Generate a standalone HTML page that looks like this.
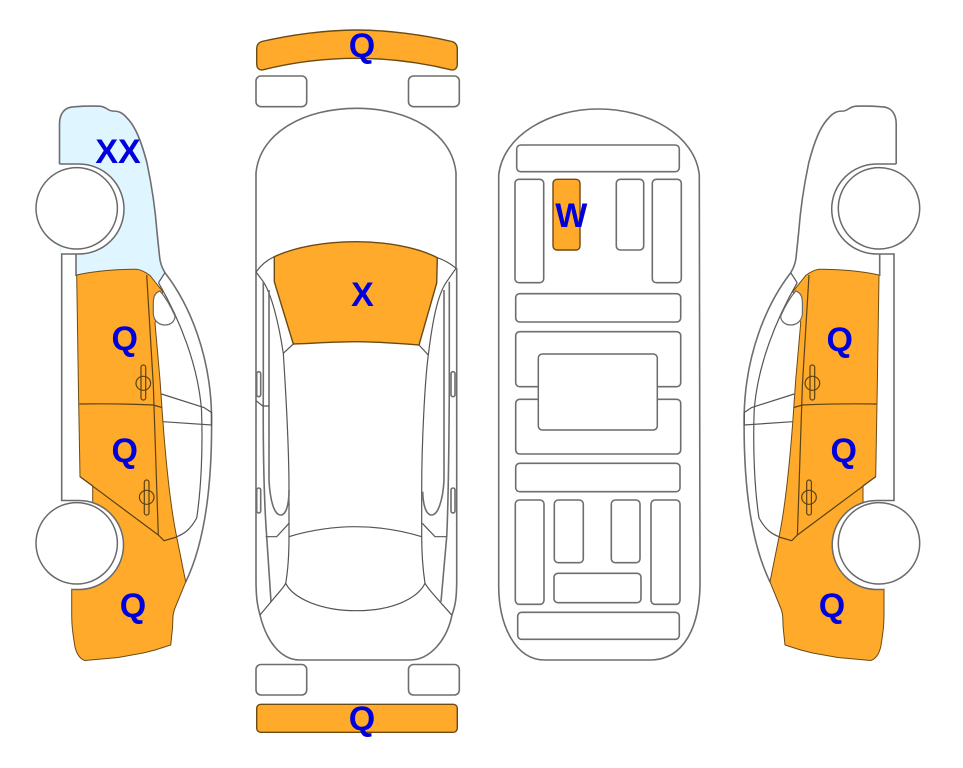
<!DOCTYPE html>
<html><head><meta charset="utf-8"><style>
html,body{margin:0;padding:0;background:#fff;width:963px;height:768px;overflow:hidden}
svg{display:block}
.l{fill:none;stroke:#6e6e6e;stroke-width:1.6}
.t{fill:none;stroke:#555;stroke-width:1.2}
.b{fill:#fff;stroke:#6a6a6a;stroke-width:1.5}
.o{fill:#FFAA2B;stroke:#6b4a14;stroke-width:1.4}
.n{fill:none;stroke:#5a4315;stroke-width:1.2}
text{font-family:"Liberation Sans",sans-serif;font-weight:bold;font-size:34px;fill:#0000DC;text-anchor:middle}
</style></head><body>
<svg width="963" height="768" viewBox="0 0 963 768" xmlns="http://www.w3.org/2000/svg">
<defs>
<g id="side">
  <!-- body outline -->
  <path class="l" d="M59.5 164V124C59.5 113 65 107 74 106.8C84 106 92 106 100 106.2C106 106.8 108 110.5 112 111C118 111 122 112 127 118C135 126 141 140 147 163C151 182 155 205 157 232L159.5 256C160 263 162 268 165 272.7"/>
  <!-- windows & body side -->
  <path class="l" d="M165 272.7C190 305 210 355 211.5 413C212.5 480 206 540 185.7 582"/>
  <path class="t" d="M158.5 282.7L165 272.7"/>
  <path class="t" d="M158.5 282.7C180 320 198 365 201.5 410C203 450 201 490 196.7 518C190 530 184 534 176 537"/>
  <path class="t" d="M161.5 394L204 407.500L211.500 412.500L211.500 425L163 421.700"/>
  <!-- rails -->
  <path class="l" d="M61.700 254V501"/>
  <!-- orange panels -->
  <path class="o" d="M76.700 275C95 271 118 269 136.700 269.300C142 270 146 272.500 150 275.500L162.700 291.500L155 323L160 380L163 423C166 462 170 505 176.700 537L185.700 582L175 608C172.500 614 173 618 172.500 628L170.700 645L155 650L143 653L118 657.500L85 660.500C80 659 77 655 75 647C72.500 632 71.700 625 71.700 613V589L92.700 502V485.700L80 476.700L78.300 380Z" style="stroke-width:1"/>
  <path class="n" d="M146.700 275L153.300 385L158.300 535"/>
  <path class="n" d="M79.300 404C105 403.500 130 404 153.300 405L162 407.500"/>
  <path class="n" d="M80 476.700L158.300 535L164 540.700L176.700 537"/>
  <rect x="141" y="365" width="4.700" height="35" rx="2.300" class="n"/>
  <ellipse cx="143.300" cy="383.300" rx="7.300" ry="7" class="n"/>
  <rect x="144.300" y="480" width="4.700" height="35" rx="2.300" class="n"/>
  <ellipse cx="146.700" cy="497.300" rx="7.300" ry="7" class="n"/>
  <!-- mirror -->
  <path class="b" d="M160 291C154 293 153.300 298 153.300 304V314C154 321 159 325 165 325C171 325 175 321 175 316C171 307 166 298 160 291Z" style="stroke-width:1.200"/>
  <!-- arches -->
  <path class="b" d="M59.500 164H79A45 45 0 0 1 79 254H61"/>
  <path class="b" d="M61 500.500H79A44.500 44.500 0 0 1 79 589.500H71.700"/>
  <circle class="b" cx="76.700" cy="208.300" r="40.700"/>
  <circle class="b" cx="76.700" cy="543.300" r="40.700"/>
</g>
</defs>

<!-- left view -->
<path d="M60 164V124C60 113 65 107 74 107C84 106 92 106 100 106.500C106 107 108 111 112 111C118 111 122 112 127 118C135 126 141 140 147 163C151 182 155 205 157 232L159.500 256C160 263 162 268 165 272.700L158.500 283L150 276L76.700 276V254H60Z" fill="#DFF5FF"/>
<path class="l" d="M76 254V276"/>
<use href="#side"/>
<!-- right view -->
<use href="#side" transform="translate(955.700 0) scale(-1 1)"/>
<path class="l" d="M879.700 254V276"/>

<!-- top view -->
<path class="o" d="M261.700 41.500C290 35 325 30 356.700 30C388 30 424 35 452 41.500C455.500 42.500 457.300 45 457.300 49V64C457.300 68.500 454.500 70.500 451 69.800C423 63 390 58.300 356.700 58.300C323 58.300 290 63 263 69.800C259.500 70.500 256.700 68.500 256.700 64V49C256.700 45 258.500 42.500 261.700 41.500Z"/>
<rect class="l" x="256" y="76" width="50.700" height="30.700" rx="5"/>
<rect class="l" x="408.500" y="76" width="50.800" height="30.700" rx="5"/>
<rect class="l" x="256" y="664.500" width="50.700" height="30.500" rx="5"/>
<rect class="l" x="408.500" y="664.500" width="50.800" height="30.500" rx="5"/>
<rect class="o" x="256.700" y="704.300" width="200.600" height="28" rx="4"/>

<path class="l" d="M256 272V173C260 132 305 108.300 356.700 108.300C408 108.300 452 132 456 173V268M256 272V580C256 600 258 608 260 615C266 640 280 660 300 660H410C430 660 447 640 452 615C455 606 456.700 600 456.700 580V268"/>
<path class="o" d="M274.300 256.700C295 247 325 241.700 356 241.700C385 241.700 417 247 437.300 257.700L436.700 283L419 345C400 343.500 378 341.700 356.700 341.700C335 341.700 314 343.300 293.300 344L274.300 281.700Z"/>
<path class="t" d="M256 272C261 265 267 260 274.300 256.700M437.300 257.700C444 260 451 264 456 268.300"/>
<path class="t" d="M256 272L263.300 281.700C272 295 279 325 283.300 353.300L293.300 344M283.300 353.300C285 380 289 440 289 490V536.700C289 555 288 570 285.700 583.300"/>
<path class="t" d="M456 268.300L446.700 281.700C437 295 432 325 428.300 355L419 345M428.300 355C425 380 421.700 440 421.700 490V536.700C421.700 555 423 570 425 583.300"/>
<path class="l" d="M263.300 281.700V390C263 440 264 500 266.700 536.700L271 601.700"/>
<path class="l" d="M269 290V480C270 500 274 515 280.700 515C286 515 289 505 289 490"/>
<path class="l" d="M449.300 281.700V390C449 440 448.500 500 446.700 536.700L441 601.700"/>
<path class="l" d="M444 290V480C443 500 438 515 431.700 515C426 515 423 505 422.700 491.700"/>
<path class="t" d="M256 400.700L262.700 406H269"/>
<path class="t" d="M265.700 536.700H276.700L289 523.300"/>
<path class="t" d="M446.700 536.700H435L422.300 523.300"/>
<path class="t" d="M289 536.700C310 530 335 526.700 355 526.700C378 526.700 400 530 421.700 536.700"/>
<path class="t" d="M260 615L275 597C281 590 284 587 285.700 583.300C293 598 320 610.700 356.700 610.700C393 610.700 418 598 425 583.300C429 590 434 595 451.700 615"/>
<rect class="l" x="256.700" y="371.700" width="4" height="25" rx="2"/>
<rect class="l" x="256.700" y="488" width="4" height="25" rx="2"/>
<rect class="l" x="451" y="371.700" width="4" height="25" rx="2"/>
<rect class="l" x="451" y="488" width="4" height="25" rx="2"/>

<!-- underside -->
<path class="l" d="M498.700 175C503 135 550 109 598.300 109C648 109 695 135 699.300 175L700 586.700C699 625 685 660 650 660H545C515 660 499 625 498.700 586.700Z"/>
<rect class="l" x="516.700" y="145" width="162.600" height="26.700" rx="4"/>
<rect class="l" x="515" y="179.300" width="28.700" height="103.400" rx="4"/>
<rect class="o" x="553" y="179.300" width="27" height="70.700" rx="4"/>
<rect class="l" x="616.300" y="179.300" width="27.400" height="70.700" rx="4"/>
<rect class="l" x="652.300" y="179.300" width="29" height="103.400" rx="4"/>
<rect class="l" x="515.700" y="293.700" width="165" height="28.300" rx="4"/>
<rect class="l" x="515.700" y="331.700" width="165" height="55" rx="4"/>
<rect class="l" x="515.700" y="399.300" width="165" height="54.700" rx="4"/>
<rect class="b" x="538.300" y="354" width="119" height="76" rx="4"/>
<rect class="l" x="515.700" y="463.300" width="164.300" height="28.400" rx="4"/>
<rect class="l" x="515.300" y="500" width="28.700" height="104.300" rx="4"/>
<rect class="l" x="554.300" y="500" width="29" height="62.700" rx="4"/>
<rect class="l" x="611.300" y="500" width="28.700" height="62.700" rx="4"/>
<rect class="l" x="651" y="500" width="29" height="104.300" rx="4"/>
<rect class="l" x="554" y="573.300" width="87" height="29.400" rx="4"/>
<rect class="l" x="517.700" y="612.300" width="161.600" height="27" rx="4"/>

<!-- labels -->
<text x="118" y="163">XX</text>
<text x="124.700" y="350">Q</text>
<text x="124.700" y="462">Q</text>
<text x="133" y="617">Q</text>
<text x="362" y="57">Q</text>
<text x="362.500" y="306">X</text>
<text x="362" y="730">Q</text>
<text x="571.300" y="227">W</text>
<text x="839.700" y="351">Q</text>
<text x="843.700" y="462">Q</text>
<text x="832" y="617">Q</text>
</svg>
</body></html>
